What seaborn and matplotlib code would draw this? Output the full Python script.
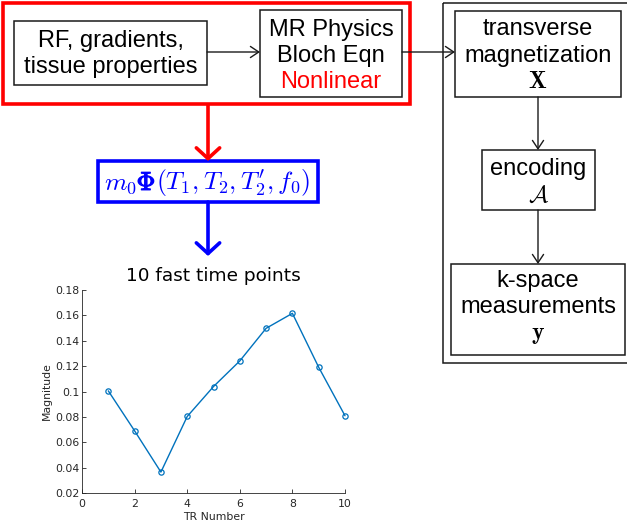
import matplotlib
matplotlib.use("Agg")
import matplotlib.pyplot as plt
import matplotlib.patheffects as pe
from matplotlib.patches import Rectangle
import seaborn as sns
import pandas as pd

# Signal evolution over the fast time points
tr_number = [1, 2, 3, 4, 5, 6, 7, 8, 9, 10]
magnitude = [0.1005, 0.069, 0.0365, 0.0803, 0.1039, 0.1241, 0.1498, 0.1616, 0.1191, 0.0809]
x_ticks = [0, 2, 4, 6, 8, 10]
y_ticks = [0.02, 0.04, 0.06, 0.08, 0.10, 0.12, 0.14, 0.16, 0.18]
y_tick_labels = ["0.02", "0.04", "0.06", "0.08", "0.1", "0.12", "0.14", "0.16", "0.18"]

sns.set_theme(style="ticks")
plt.rcParams["font.family"] = ["DejaVu Sans"]
plt.rcParams["mathtext.fontset"] = "cm"

W, H = 627, 527
fig = plt.figure(figsize=(W / 100, H / 100), dpi=100)
fig.patch.set_facecolor("white")

# ---------- block diagram (pixel coordinates, origin top-left) ----------
dg = fig.add_axes([0, 0, 1, 1])
dg.set_xlim(0, W)
dg.set_ylim(H, 0)
dg.axis("off")

BOX_KW = dict(fill=False, edgecolor="#1a1a1a", linewidth=1.1)
SANS = "Liberation Sans"
FS = 17


def box(x0, y0, x1, y1, **kw):
    style = dict(BOX_KW)
    style.update(kw)
    dg.add_patch(Rectangle((x0, y0), x1 - x0, y1 - y0, **style))


def label(x, y, s, color="black", family=SANS, size=FS, ha="center", **kw):
    return dg.text(x, y, s, ha=ha, va="baseline", fontsize=size,
                   color=color, family=family, **kw)


def arrow(x0, y0, x1, y1, color="#1a1a1a", lw=1.0, scale=10, head="head_length=0.6,head_width=0.4"):
    dg.annotate("", xy=(x1, y1), xytext=(x0, y0),
                arrowprops=dict(arrowstyle="->," + head, color=color, lw=lw,
                                shrinkA=0, shrinkB=0, mutation_scale=scale))


# forward model group
box(3, 3, 410, 104, edgecolor="#ff0000", linewidth=2.6)
box(14, 21, 207, 85)
label(110.5, 47, "RF, gradients,")
label(110.5, 73, "tissue properties")
box(260, 10, 402, 97)
label(331, 36, "MR Physics")
label(331, 62, "Bloch Eqn")
label(331, 88, "Nonlinear", color="#ff0000")
arrow(207, 52, 260, 52)

# acquisition group
box(443, 3, 640, 363)
box(455, 11, 621, 97)
label(538, 35, "transverse")
label(538, 62, "magnetization")
label(538, 88, r"$\mathbf{X}$")
box(482, 150, 595, 210)
label(538.5, 175, "encoding")
label(538.5, 202, r"$\mathcal{A}$")
box(451, 264, 625, 355)
label(538, 287, "k-space")
label(538, 313, "measurements")
label(538, 339, r"$\mathbf{y}$")
arrow(402, 52, 455, 52)
arrow(538, 97, 538, 150)
arrow(538, 210, 538, 264)

# dictionary step: m0 * Phi(T1, T2, T2', f0), set piecewise so Phi can be heavy
box(98, 161, 318, 202, edgecolor="#0000ff", linewidth=2.6)
FSM = 18.5
BLUE = "#0000ff"
renderer = fig.canvas.get_renderer()
pieces = [
    (r"$m_0$", []),
    (r"$\Phi$", [pe.withStroke(linewidth=0.9, foreground=BLUE)]),
    (r"$(T_1,T_2,T_2',f_0)$", []),
]
widths = []
for s, _ in pieces:
    t = label(0, 0, s, color="none", size=FSM, ha="left")
    widths.append(t.get_window_extent(renderer).width)
    t.remove()
px_per_unit = dg.transData.transform((1, 0))[0] - dg.transData.transform((0, 0))[0]
x_cursor = 207 - sum(widths) / px_per_unit / 2
for (s, effects), w in zip(pieces, widths):
    label(x_cursor, 190, s, color=BLUE, size=FSM, ha="left", path_effects=effects)
    x_cursor += w / px_per_unit

arrow(208, 105, 208, 161, color="#ff0000", lw=2.6, scale=14,
      head="head_length=0.55,head_width=0.6")
arrow(208, 202, 208, 256, color=BLUE, lw=2.6, scale=14,
      head="head_length=0.55,head_width=0.6")

# ---------- signal plot ----------
ax = fig.add_axes([82 / W, 1 - 493 / H, 263 / W, 203 / H])
df = pd.DataFrame({"TR Number": tr_number, "Magnitude": magnitude})
sns.lineplot(data=df, x="TR Number", y="Magnitude", ax=ax, color="#0072BD",
             linewidth=1.0, marker="o", markersize=3.8, markerfacecolor="none",
             markeredgecolor="#0072BD", markeredgewidth=0.9, clip_on=False)
ax.set_xlim(0, 10)
ax.set_ylim(0.02, 0.18)
ax.set_xticks(x_ticks)
ax.set_yticks(y_ticks)
ax.set_yticklabels(y_tick_labels)
ax.tick_params(direction="in", length=3, width=0.6, labelsize=7.8,
               colors="#262626", pad=2)
ax.tick_params(axis="x", pad=4)
for side in ("top", "right"):
    ax.spines[side].set_visible(False)
for side in ("left", "bottom"):
    ax.spines[side].set_color("#262626")
    ax.spines[side].set_linewidth(0.6)
ax.set_xlabel("TR Number", fontsize=7.8, color="#262626", labelpad=2.5)
ax.set_ylabel("Magnitude", fontsize=7.8, color="#262626", labelpad=2)
ax.set_title("10 fast time points", fontsize=13.3, color="black", pad=6.5)
ax.set_facecolor("white")

fig.savefig("out.png", dpi=100, facecolor="white")
